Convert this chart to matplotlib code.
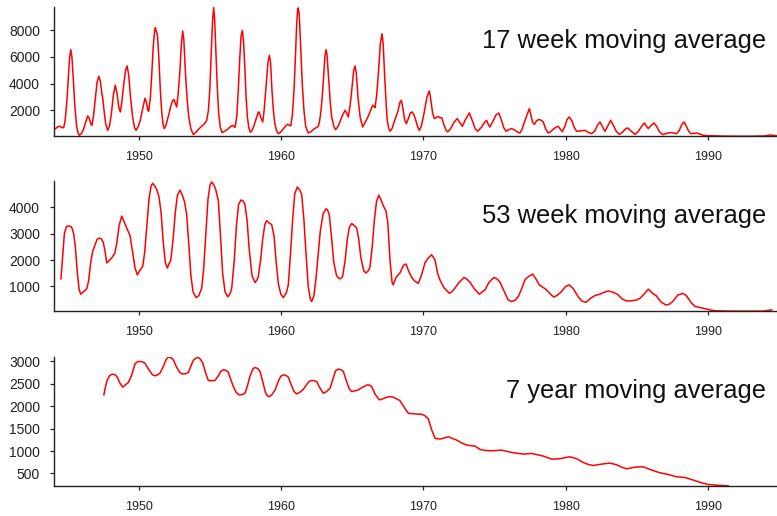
import matplotlib
matplotlib.use("Agg")
import matplotlib.pyplot as plt

plt.rcParams['font.family'] = ['Liberation Sans', 'DejaVu Sans']

# 17 week moving average of weekly cases: (year, cases)
wk17 = [
    (1944.05, 600), (1944.16, 650), (1944.3, 780), (1944.44, 800), (1944.6, 700),
    (1944.7, 700), (1944.8, 1200), (1944.92, 2600), (1945.03, 4500), (1945.12, 6000),
    (1945.2, 6550), (1945.28, 6000), (1945.38, 4300), (1945.48, 2400), (1945.6, 900),
    (1945.72, 250), (1945.8, 130), (1945.95, 250), (1946.1, 600), (1946.25, 1100),
    (1946.39, 1580), (1946.5, 1400), (1946.62, 950), (1946.69, 880), (1946.8, 1600),
    (1946.92, 2800), (1947.05, 4100), (1947.17, 4550), (1947.28, 4200), (1947.38, 3300),
    (1947.45, 2880), (1947.55, 1900), (1947.65, 1000), (1947.8, 500), (1947.92, 800),
    (1948.05, 1700), (1948.2, 3200), (1948.33, 3880), (1948.45, 3300), (1948.58, 2200),
    (1948.69, 1880), (1948.8, 2700), (1948.92, 3900), (1949.05, 5000), (1949.16, 5330),
    (1949.28, 4600), (1949.4, 3000), (1949.55, 1500), (1949.68, 700), (1949.79, 500),
    (1949.95, 800), (1950.1, 1300), (1950.25, 2100), (1950.42, 2900), (1950.52, 2600),
    (1950.62, 2000), (1950.68, 1930), (1950.8, 3000), (1950.9, 4800), (1951.0, 6800),
    (1951.1, 8000), (1951.15, 8200), (1951.22, 7900), (1951.3, 7600), (1951.4, 5800),
    (1951.5, 3500), (1951.6, 1800), (1951.7, 900), (1951.78, 630), (1951.9, 900),
    (1952.0, 1300), (1952.12, 1800), (1952.23, 2300), (1952.35, 2700), (1952.46, 2800),
    (1952.56, 2500), (1952.65, 2250), (1952.75, 3200), (1952.88, 5000), (1952.98, 7000),
    (1953.07, 7950), (1953.15, 7300), (1953.28, 4500), (1953.4, 2600), (1953.5, 1500),
    (1953.65, 600), (1953.82, 180), (1954.0, 350), (1954.2, 600), (1954.4, 800),
    (1954.52, 930), (1954.65, 1050), (1954.76, 1250), (1954.88, 2000), (1954.98, 3600),
    (1955.08, 6200), (1955.17, 8700), (1955.25, 9700), (1955.32, 8800), (1955.42, 6000),
    (1955.5, 3800), (1955.6, 1800), (1955.72, 700), (1955.84, 330), (1956.0, 420),
    (1956.2, 550), (1956.4, 750), (1956.59, 880), (1956.68, 780), (1956.76, 730),
    (1956.88, 1600), (1956.98, 3500), (1957.08, 5800), (1957.18, 7600), (1957.27, 8000),
    (1957.35, 7200), (1957.45, 5000), (1957.53, 3000), (1957.62, 1500), (1957.72, 700),
    (1957.83, 350), (1957.95, 500), (1958.1, 900), (1958.25, 1400), (1958.38, 1850),
    (1958.44, 1880), (1958.55, 1500), (1958.7, 1130), (1958.8, 2000), (1958.95, 4000),
    (1959.07, 5600), (1959.17, 6130), (1959.25, 5600), (1959.35, 3500), (1959.45, 2000),
    (1959.55, 1000), (1959.68, 450), (1959.8, 250), (1959.95, 350), (1960.1, 550),
    (1960.25, 750), (1960.43, 950), (1960.55, 900), (1960.67, 830), (1960.78, 1600),
    (1960.9, 3500), (1961.0, 6000), (1961.08, 8300), (1961.15, 9500), (1961.2, 9680),
    (1961.27, 9200), (1961.38, 6500), (1961.48, 4000), (1961.6, 2000), (1961.72, 800),
    (1961.9, 300), (1962.1, 400), (1962.3, 600), (1962.45, 700), (1962.61, 800),
    (1962.7, 1200), (1962.8, 2000), (1962.9, 3200), (1962.98, 4500), (1963.08, 6100),
    (1963.15, 6550), (1963.22, 6200), (1963.35, 4200), (1963.45, 2600), (1963.55, 1500),
    (1963.7, 800), (1963.83, 550), (1964.0, 800), (1964.15, 1200), (1964.3, 1600),
    (1964.49, 2000), (1964.6, 1800), (1964.72, 1500), (1964.85, 2400), (1964.97, 3600),
    (1965.1, 5000), (1965.19, 5330), (1965.28, 4800), (1965.4, 3000), (1965.55, 1500),
    (1965.73, 750), (1965.9, 1100), (1966.1, 1500), (1966.25, 1900), (1966.43, 2380),
    (1966.52, 2300), (1966.6, 2200), (1966.72, 3200), (1966.85, 5000), (1966.97, 7000),
    (1967.09, 7750), (1967.17, 7000), (1967.28, 4500), (1967.37, 2700), (1967.45, 1300),
    (1967.55, 700), (1967.65, 430), (1967.8, 650), (1968.0, 1300), (1968.2, 1900),
    (1968.35, 2600), (1968.45, 2750), (1968.55, 2200), (1968.68, 1300), (1968.8, 1000),
    (1968.95, 1400), (1969.08, 1800), (1969.2, 1880), (1969.32, 1700), (1969.45, 1300),
    (1969.6, 750), (1969.71, 500), (1969.85, 800), (1970.05, 1800), (1970.25, 3000),
    (1970.42, 3450), (1970.52, 2800), (1970.65, 1800), (1970.77, 1380), (1970.9, 1450),
    (1971.05, 1550), (1971.15, 1450), (1971.29, 1450), (1971.45, 900), (1971.6, 500),
    (1971.71, 380), (1971.9, 600), (1972.15, 1100), (1972.38, 1380), (1972.55, 1100),
    (1972.74, 800), (1972.95, 1300), (1973.23, 1800), (1973.45, 1200), (1973.65, 600),
    (1973.82, 430), (1974.1, 750), (1974.3, 1100), (1974.45, 1250), (1974.58, 900),
    (1974.68, 750), (1974.9, 1200), (1975.1, 1650), (1975.3, 1800), (1975.45, 1400),
    (1975.65, 700), (1975.81, 430), (1976.0, 550), (1976.21, 630), (1976.45, 500),
    (1976.65, 350), (1976.79, 300), (1976.95, 600), (1977.1, 1100), (1977.3, 1700),
    (1977.45, 2130), (1977.55, 1700), (1977.68, 1100), (1977.8, 950), (1977.95, 1200),
    (1978.08, 1300), (1978.25, 1280), (1978.43, 1130), (1978.6, 600), (1978.78, 300),
    (1978.95, 400), (1979.15, 600), (1979.35, 750), (1979.49, 800), (1979.62, 600),
    (1979.77, 400), (1979.95, 800), (1980.1, 1300), (1980.26, 1500), (1980.45, 1200),
    (1980.62, 700), (1980.78, 430), (1981.0, 450), (1981.36, 500), (1981.6, 350),
    (1981.83, 250), (1982.05, 450), (1982.25, 900), (1982.42, 1130), (1982.6, 750),
    (1982.77, 430), (1982.95, 800), (1983.17, 1250), (1983.35, 900), (1983.55, 450),
    (1983.78, 200), (1984.0, 350), (1984.2, 600), (1984.37, 680), (1984.6, 450),
    (1984.88, 200), (1985.1, 400), (1985.35, 800), (1985.54, 1050), (1985.7, 800),
    (1985.82, 630), (1986.0, 850), (1986.22, 1050), (1986.4, 800), (1986.6, 400),
    (1986.83, 180), (1987.05, 250), (1987.34, 330), (1987.6, 300), (1987.81, 250),
    (1988.0, 500), (1988.18, 950), (1988.33, 1130), (1988.5, 800), (1988.65, 450),
    (1988.8, 250), (1989.0, 270), (1989.22, 300), (1989.45, 220), (1989.69, 130),
    (1990.0, 100), (1990.3, 90), (1991.0, 70), (1992.0, 60), (1993.0, 60),
    (1994.0, 80), (1994.25, 130), (1994.44, 150), (1994.65, 110), (1994.85, 90),
]

# 53 week moving average: (year, cases)
wk53 = [
    (1944.51, 1290), (1944.62, 2100), (1944.75, 3000), (1944.9, 3270), (1945.05, 3290),
    (1945.26, 3250), (1945.4, 3000), (1945.52, 2500), (1945.65, 1600), (1945.78, 900),
    (1945.9, 710), (1946.05, 780), (1946.32, 910), (1946.45, 1200), (1946.6, 1900),
    (1946.74, 2330), (1946.9, 2560), (1947.05, 2780), (1947.21, 2830), (1947.35, 2800),
    (1947.49, 2660), (1947.62, 2300), (1947.73, 1890), (1947.85, 1950), (1948.08, 2080),
    (1948.31, 2270), (1948.45, 2700), (1948.6, 3300), (1948.78, 3660), (1948.95, 3450),
    (1949.18, 3150), (1949.37, 2920), (1949.55, 2300), (1949.72, 1700), (1949.88, 1440),
    (1950.05, 1600), (1950.26, 1760), (1950.4, 2300), (1950.55, 3300), (1950.7, 4300),
    (1950.85, 4800), (1950.96, 4900), (1951.1, 4800), (1951.24, 4670), (1951.4, 4400),
    (1951.55, 3800), (1951.7, 2700), (1951.85, 1900), (1951.99, 1700), (1952.1, 1850),
    (1952.23, 1980), (1952.4, 2800), (1952.55, 3800), (1952.7, 4450), (1952.88, 4640),
    (1953.05, 4450), (1953.2, 4200), (1953.35, 3720), (1953.5, 2600), (1953.65, 1400),
    (1953.8, 800), (1954.01, 580), (1954.2, 650), (1954.41, 940), (1954.55, 1700),
    (1954.7, 3000), (1954.85, 4300), (1955.0, 4850), (1955.11, 4950), (1955.25, 4850),
    (1955.39, 4670), (1955.58, 4230), (1955.72, 3000), (1955.88, 1500), (1956.05, 800),
    (1956.24, 610), (1956.4, 720), (1956.52, 940), (1956.7, 2000), (1956.85, 3300),
    (1957.0, 4100), (1957.17, 4270), (1957.32, 4230), (1957.45, 4100), (1957.6, 3500),
    (1957.75, 2400), (1957.95, 1400), (1958.16, 1150), (1958.3, 1250), (1958.39, 1380),
    (1958.55, 2000), (1958.7, 2800), (1958.85, 3350), (1958.98, 3490), (1959.15, 3400),
    (1959.33, 3340), (1959.5, 2900), (1959.65, 1900), (1959.8, 1100), (1959.98, 700),
    (1960.15, 580), (1960.35, 750), (1960.5, 1060), (1960.65, 2200), (1960.8, 3500),
    (1960.95, 4500), (1961.13, 4760), (1961.3, 4650), (1961.44, 4480), (1961.6, 3500),
    (1961.75, 2200), (1961.9, 1000), (1962.05, 520), (1962.14, 430), (1962.3, 650),
    (1962.45, 1320), (1962.6, 2200), (1962.75, 3100), (1962.95, 3750), (1963.15, 3935),
    (1963.25, 3900), (1963.38, 3720), (1963.55, 2800), (1963.7, 1900), (1963.9, 1400),
    (1964.09, 1290), (1964.2, 1310), (1964.32, 1380), (1964.5, 2000), (1964.65, 2800),
    (1964.8, 3250), (1964.96, 3380), (1965.15, 3300), (1965.31, 3210), (1965.45, 2800),
    (1965.6, 2100), (1965.8, 1600), (1965.96, 1510), (1966.1, 1580), (1966.24, 1720),
    (1966.4, 2500), (1966.55, 3500), (1966.7, 4200), (1966.86, 4450), (1967.0, 4300),
    (1967.14, 4100), (1967.28, 3950), (1967.37, 3850), (1967.5, 3400), (1967.65, 2000),
    (1967.8, 1150), (1967.88, 1060), (1968.07, 1340), (1968.35, 1510), (1968.6, 1800),
    (1968.78, 1850), (1968.95, 1600), (1969.18, 1340), (1969.4, 1200), (1969.64, 1120),
    (1969.85, 1400), (1970.11, 1890), (1970.3, 2050), (1970.58, 2200), (1970.82, 2000),
    (1971.0, 1500), (1971.17, 1240), (1971.45, 950), (1971.82, 745), (1972.0, 800),
    (1972.22, 940), (1972.5, 1150), (1972.86, 1340), (1973.05, 1280), (1973.28, 1160),
    (1973.6, 900), (1973.93, 710), (1974.1, 780), (1974.33, 870), (1974.6, 1150),
    (1974.96, 1340), (1975.2, 1280), (1975.39, 1160), (1975.7, 800), (1975.95, 500),
    (1976.2, 430), (1976.45, 480), (1976.67, 620), (1976.9, 900), (1977.14, 1250),
    (1977.4, 1380), (1977.69, 1470), (1977.9, 1300), (1978.15, 1060), (1978.6, 900),
    (1979.0, 680), (1979.18, 600), (1979.45, 680), (1979.7, 800), (1980.0, 1000),
    (1980.26, 1060), (1980.54, 920), (1980.9, 600), (1981.15, 450), (1981.43, 400),
    (1981.75, 550), (1982.07, 660), (1982.42, 710), (1982.7, 780), (1983.0, 830),
    (1983.3, 790), (1983.64, 710), (1984.0, 520), (1984.3, 450), (1984.65, 460),
    (1985.0, 490), (1985.25, 560), (1985.47, 680), (1985.82, 900), (1986.1, 750),
    (1986.36, 660), (1986.7, 420), (1987.06, 300), (1987.3, 330), (1987.53, 430),
    (1987.9, 680), (1988.23, 735), (1988.45, 680), (1988.63, 550), (1988.85, 380),
    (1989.1, 250), (1989.5, 200), (1989.92, 150), (1990.3, 100), (1990.63, 80),
    (1991.5, 70), (1992.5, 70), (1993.9, 70), (1994.5, 120),
]

# 7 year moving average: (year, cases)
yr7 = [
    (1947.53, 2253), (1947.65, 2450), (1947.77, 2590), (1947.95, 2690), (1948.15, 2717),
    (1948.32, 2700), (1948.47, 2650), (1948.65, 2520), (1948.85, 2426), (1949.05, 2480),
    (1949.25, 2530), (1949.49, 2700), (1949.72, 2948), (1949.9, 2995), (1950.07, 3000),
    (1950.25, 2990), (1950.42, 2960), (1950.6, 2860), (1950.77, 2780), (1950.95, 2700),
    (1951.13, 2680), (1951.3, 2700), (1951.48, 2740), (1951.71, 2890), (1951.9, 3040),
    (1952.06, 3098), (1952.25, 3080), (1952.41, 3040), (1952.6, 2900), (1952.77, 2800),
    (1952.95, 2730), (1953.12, 2720), (1953.3, 2730), (1953.47, 2755), (1953.65, 2900),
    (1953.82, 3025), (1954.0, 3075), (1954.17, 3090), (1954.32, 3050), (1954.48, 2965),
    (1954.68, 2750), (1954.87, 2575), (1955.1, 2570), (1955.34, 2575), (1955.58, 2680),
    (1955.75, 2780), (1955.93, 2814), (1956.1, 2800), (1956.28, 2760), (1956.45, 2600),
    (1956.63, 2440), (1956.85, 2300), (1957.05, 2253), (1957.25, 2260), (1957.45, 2290),
    (1957.62, 2450), (1957.8, 2665), (1958.0, 2830), (1958.16, 2866), (1958.35, 2840),
    (1958.51, 2776), (1958.7, 2550), (1958.9, 2300), (1959.05, 2225), (1959.17, 2216),
    (1959.37, 2270), (1959.57, 2365), (1959.8, 2560), (1959.97, 2670), (1960.15, 2700),
    (1960.32, 2690), (1960.5, 2650), (1960.7, 2480), (1960.9, 2330), (1961.09, 2275),
    (1961.3, 2310), (1961.56, 2380), (1961.85, 2510), (1962.0, 2560), (1962.15, 2575),
    (1962.32, 2570), (1962.5, 2550), (1962.7, 2420), (1962.96, 2290), (1963.2, 2330),
    (1963.43, 2400), (1963.65, 2620), (1963.82, 2790), (1964.01, 2830), (1964.2, 2815),
    (1964.37, 2776), (1964.6, 2550), (1964.8, 2380), (1964.96, 2328), (1965.2, 2345),
    (1965.42, 2365), (1965.75, 2430), (1966.0, 2470), (1966.12, 2477), (1966.25, 2465),
    (1966.36, 2440), (1966.6, 2270), (1966.9, 2141), (1967.1, 2160), (1967.25, 2180),
    (1967.45, 2205), (1967.65, 2216), (1967.9, 2200), (1968.15, 2160), (1968.35, 2125),
    (1968.6, 2000), (1968.94, 1843), (1969.4, 1830), (1969.88, 1820), (1970.1, 1790),
    (1970.35, 1716), (1970.55, 1500), (1970.82, 1283), (1971.17, 1268), (1971.45, 1290),
    (1971.76, 1319), (1972.05, 1280), (1972.34, 1245), (1972.7, 1180), (1973.05, 1133),
    (1973.63, 1110), (1973.98, 1036), (1974.3, 1015), (1974.68, 1006), (1975.1, 1010),
    (1975.5, 1021), (1975.9, 990), (1976.32, 962), (1977.02, 932), (1977.61, 947),
    (1978.0, 920), (1978.43, 888), (1978.75, 850), (1979.02, 820), (1979.61, 828),
    (1980.0, 855), (1980.31, 872), (1980.78, 828), (1981.24, 746), (1981.6, 700),
    (1981.95, 678), (1982.54, 709), (1983.12, 731), (1983.59, 694), (1983.95, 640),
    (1984.29, 604), (1984.88, 641), (1985.47, 649), (1986.06, 574), (1986.64, 515),
    (1987.22, 477), (1987.81, 425), (1988.4, 410), (1988.98, 350), (1989.57, 291),
    (1990.04, 253), (1990.63, 238), (1991.44, 223),
]

panel_titles = ["17 week moving average", "53 week moving average", "7 year moving average"]
x_ticks = [1950, 1960, 1970, 1980, 1990]
y_ticks = [
    [2000, 4000, 6000, 8000],
    [1000, 2000, 3000, 4000],
    [500, 1000, 1500, 2000, 2500, 3000],
]
y_limits = [(75, 9750), (74, 4987), (220, 3099)]
series = [wk17, wk53, yr7]

W, H = 777, 516
fig = plt.figure(figsize=(W / 100, H / 100), dpi=100)

# panel extents in pixels: (top, bottom)
panel_px = [(7, 136), (181, 311), (357, 486)]
left_px = 54

for (top, bottom), pts, title, yt, yl in zip(panel_px, series, panel_titles, y_ticks, y_limits):
    ax = fig.add_axes([left_px / W, 1 - bottom / H, (W - left_px) / W, (bottom - top) / H])
    years, cases = zip(*pts)
    ax.plot(years, cases, color="#ff0000", lw=1.1, solid_joinstyle="round")
    ax.set_xlim(1944.02, 1994.87)
    ax.set_ylim(*yl)
    ax.set_xticks(x_ticks)
    ax.set_yticks(yt)
    for side in ("top", "right"):
        ax.spines[side].set_visible(False)
    for side in ("left", "bottom"):
        ax.spines[side].set_linewidth(1.0)
        ax.spines[side].set_color("#222222")
    ax.tick_params(axis="x", direction="out", length=3, width=0.9, pad=8,
                   labelsize=9, colors="#222222")
    ax.tick_params(axis="y", direction="out", length=3, width=0.9, pad=7,
                   labelsize=10, colors="#222222")
    ax.text(0.985, 0.68, title, transform=ax.transAxes, ha="right", va="baseline",
            fontsize=18.4, color="#111111")
    ax.patch.set_visible(False)

fig.savefig("out.png", dpi=100)
